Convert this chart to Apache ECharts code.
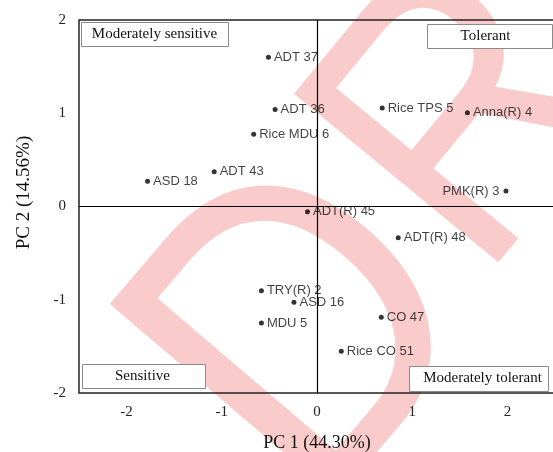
<!DOCTYPE html>
<html><head><meta charset="utf-8">
<script src="https://cdn.jsdelivr.net/npm/echarts@6/dist/echarts.min.js"></script>
<style>html,body{margin:0;padding:0;background:#fff}#c{width:553px;height:452px}</style>
</head><body><div id="c"></div>
<script>
const genotypes = ['ADT 37','ADT 36','Rice MDU 6','ADT 43','ASD 18','Rice TPS 5','Anna(R) 4','PMK(R) 3','ADT(R) 45','ADT(R) 48','TRY(R) 2','ASD 16','MDU 5','CO 47','Rice CO 51'];
const pc1 = [-0.51,-0.44,-0.665,-1.08,-1.78,0.685,1.58,1.985,-0.10,0.853,-0.584,-0.242,-0.584,0.675,0.255];
const pc2 = [1.60,1.04,0.774,0.373,0.27,1.056,1.006,0.166,-0.056,-0.334,-0.903,-1.027,-1.249,-1.188,-1.553];
const xTickLabels = [-2,-1,0,1,2];
const yTickLabels = [-2,-1,0,1,2];
const xAxisTitle = 'PC 1 (44.30%)';
const yAxisTitle = 'PC 2 (14.56%)';
const quadrantNames = ['Moderately sensitive','Tolerant','Sensitive','Moderately tolerant'];
const watermarkLetters = ['D','R'];

const leftLabeled = new Set(['PMK(R) 3']);
const chart = echarts.init(document.getElementById('c'), null, {renderer:'canvas'});
const serif = '"Liberation Serif", "Times New Roman", serif';
const sans = '"Liberation Sans", Arial, sans-serif';

const points = genotypes.map((n,i)=>({
  name:n, value:[pc1[i],pc2[i]],
  label:{position: leftLabeled.has(n)?'left':'right', distance: leftLabeled.has(n)?4:3}
}));

const wmStyle = [
  {x:226, y:444, size:435, r:49.5},
  {x:399, y:216, size:385, r:50.5}
];
const wm = watermarkLetters.map((t,i)=>({
  type:'text', x:wmStyle[i].x, y:wmStyle[i].y, rotation:wmStyle[i].r*Math.PI/180, scaleX:0.87, scaleY:1, z:-10, silent:true,
  style:{text:t, font:'normal '+wmStyle[i].size+'px '+sans, fill:'#f9cbcb', textAlign:'left', textVerticalAlign:'middle', align:'left', verticalAlign:'middle'}
}));

const boxes = [
  {r:[81,22,147,24], c:[154.5,34.5]},
  {r:[427,24,125,24], c:[485.5,36.5]},
  {r:[82,364,123,24], c:[142.5,376.5]},
  {r:[409,366,139,25], c:[482.5,378.5]}
];
const boxEls = [];
boxes.forEach((b,i)=>{
  boxEls.push({type:'rect', z:5, silent:true, shape:{x:b.r[0]+0.5,y:b.r[1]+0.5,width:b.r[2],height:b.r[3]}, style:{fill:'#fff', stroke:'#8a8a8a', lineWidth:1}});
  boxEls.push({type:'text', z:6, silent:true, x:b.c[0], y:b.c[1], style:{text:quadrantNames[i], font:'15px '+serif, fill:'#111', textAlign:'center', textVerticalAlign:'middle', align:'center', verticalAlign:'middle'}});
});

chart.setOption({
  animation:false,
  backgroundColor:'#fff',
  grid:{left:79, top:20, right:-2, bottom:59, show:true, borderColor:'#222', borderWidth:1.5, backgroundColor:'transparent', outerBoundsMode:'none', containLabel:false},
  xAxis:{type:'value', min:-2.5, max:2.5, interval:0.5,
    axisLine:{show:false}, axisTick:{show:false}, splitLine:{show:false},
    axisLabel:{margin:12, color:'#222', fontFamily:serif, fontSize:15,
      formatter:v=> xTickLabels.includes(v) ? String(v) : ''},
    name:xAxisTitle, nameLocation:'middle', nameGap:41,
    nameTextStyle:{fontFamily:serif, fontSize:18, color:'#111'}},
  yAxis:{type:'value', min:-2, max:2, interval:1,
    axisLine:{show:false}, axisTick:{show:false}, splitLine:{show:false},
    axisLabel:{margin:13, color:'#222', fontFamily:serif, fontSize:15,
      formatter:v=> yTickLabels.includes(v) ? String(v) : ''},
    name:yAxisTitle, nameLocation:'middle', nameGap:45, nameRotate:90,
    nameTextStyle:{fontFamily:serif, fontSize:19, color:'#111', padding:[0,0,0,28]}},
  graphic:{elements: wm.concat(boxEls)},
  series:[{
    type:'scatter', symbol:'circle', symbolSize:5, z:3,
    itemStyle:{color:'#000'},
    label:{show:true, formatter:'{b}', color:'#111', fontFamily:sans, fontSize:13},
    data:points,
    markLine:{silent:true, symbol:['none','none'], label:{show:false},
      lineStyle:{color:'#000', width:1.2, type:'solid'},
      data:[{xAxis:0},{yAxis:0}]}
  }]
});
</script></body></html>
